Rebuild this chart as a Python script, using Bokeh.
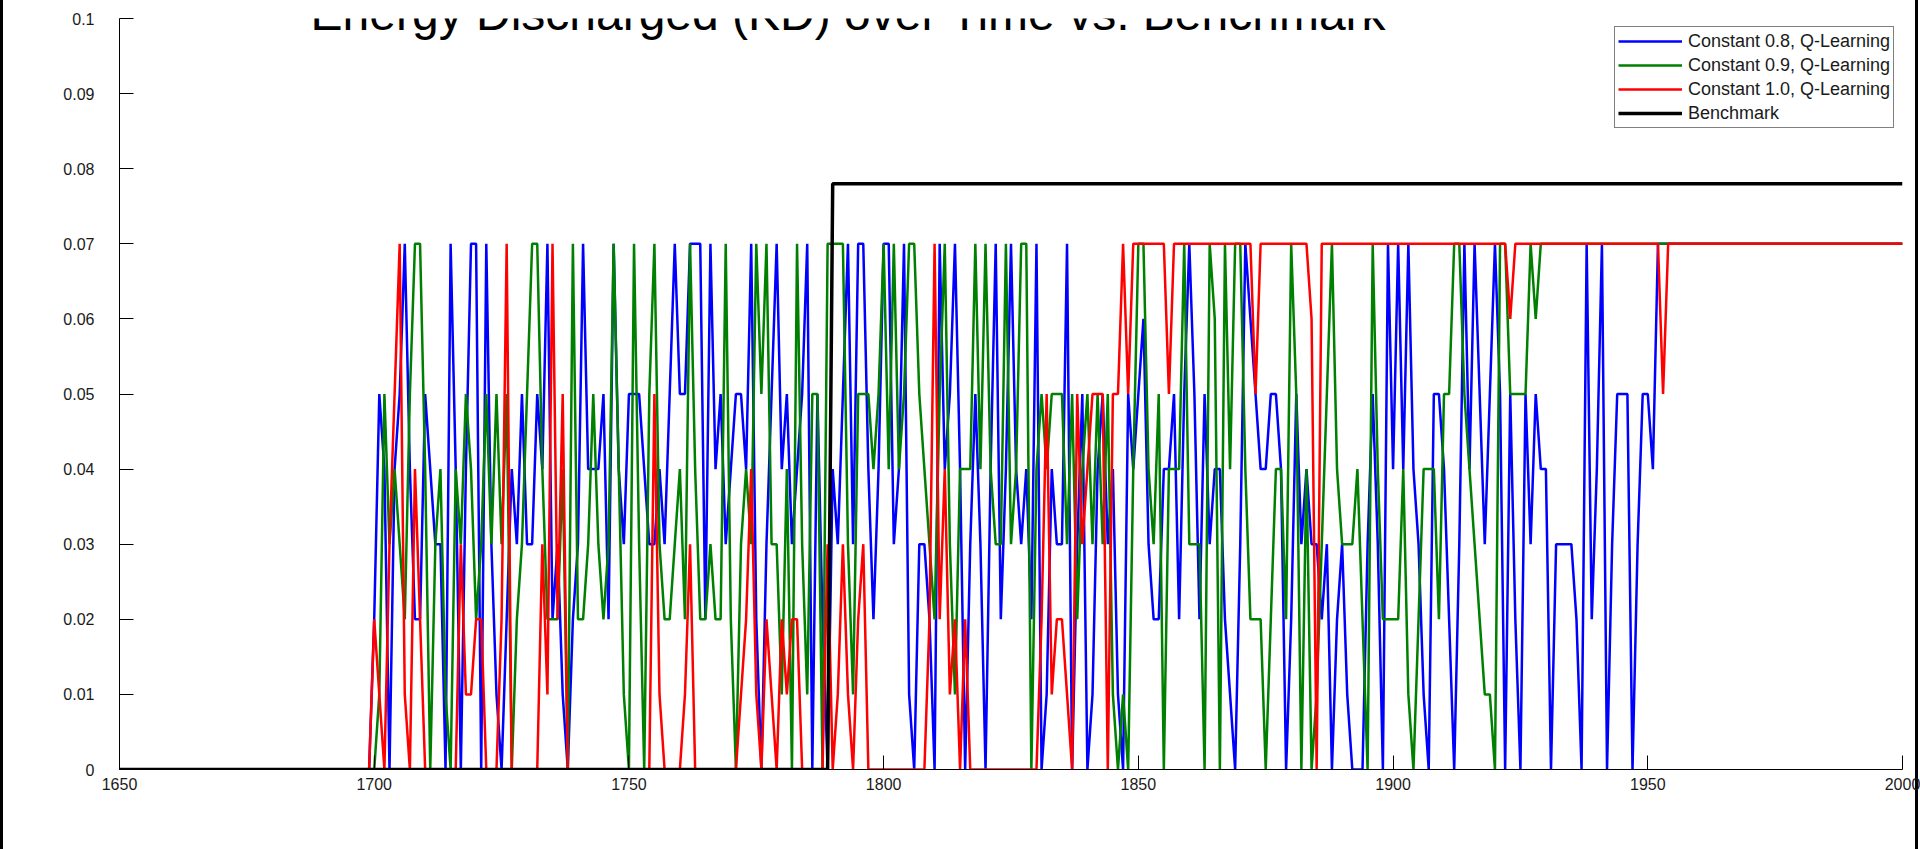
from math import pi

from bokeh.plotting import figure
from bokeh.models import Range1d, FixedTicker, Label, Legend, LegendItem
from bokeh.embed import file_html
from bokeh.resources import INLINE

# ---------------------------------------------------------------------------
# Data: energy discharged per time step, in hundredths of an energy unit.
# Every series is 0 before step 1700; the lists below run from 1700 to 2000.
# ---------------------------------------------------------------------------
first_step = 1700

const_08_centi = [
    2, 5, 4, 0, 4, 5, 7, 4, 2, 2,   # 1700
    5, 4, 3, 3, 0, 7, 4, 0, 4, 7,   # 1710
    7, 0, 7, 3, 1, 0, 2, 4, 3, 5,   # 1720
    3, 3, 5, 4, 7, 2, 3, 1, 0, 2,   # 1730
    3, 7, 4, 4, 4, 5, 2, 7, 4, 3,   # 1740
    5, 5, 5, 4, 3, 3, 4, 3, 5, 7,   # 1750
    5, 5, 7, 7, 7, 2, 7, 4, 5, 3,   # 1760
    4, 5, 5, 4, 7, 2, 0, 3, 5, 7,   # 1770
    4, 5, 3, 4, 5, 7, 0, 5, 2, 0,   # 1780
    4, 3, 5, 7, 3, 7, 7, 4, 2, 4,   # 1790
    7, 7, 3, 4, 7, 1, 0, 3, 3, 2,   # 1800
    0, 7, 4, 5, 7, 4, 0, 3, 5, 3,   # 1810
    0, 4, 7, 2, 4, 7, 4, 3, 4, 2,   # 1820
    7, 0, 1, 4, 3, 3, 7, 0, 3, 5,   # 1830
    0, 1, 4, 5, 3, 4, 1, 0, 5, 4,   # 1840
    5, 6, 3, 2, 2, 4, 4, 5, 2, 5,   # 1850
    7, 5, 2, 5, 3, 4, 4, 2, 1, 0,   # 1860
    3, 7, 6, 5, 4, 4, 5, 5, 4, 0,   # 1870
    2, 5, 3, 4, 3, 3, 2, 3, 0, 2,   # 1880
    3, 1, 0, 0, 0, 3, 5, 3, 0, 7,   # 1890
    4, 7, 4, 7, 4, 3, 1, 0, 5, 5,   # 1900
    4, 2, 0, 3, 7, 4, 7, 5, 3, 5,   # 1910
    7, 5, 0, 5, 2, 0, 5, 3, 5, 4,   # 1920
    4, 0, 3, 3, 3, 3, 2, 0, 7, 2,   # 1930
    4, 7, 0, 3, 5, 5, 5, 0, 3, 5,   # 1940
    5, 4, 7, 7, 7, 7, 7, 7, 7, 7,   # 1950
    7, 7, 7, 7, 7, 7, 7, 7, 7, 7,   # 1960
    7, 7, 7, 7, 7, 7, 7, 7, 7, 7,   # 1970
    7, 7, 7, 7, 7, 7, 7, 7, 7, 7,   # 1980
    7, 7, 7, 7, 7, 7, 7, 7, 7, 7,   # 1990
    7,                              # 2000
]

const_09_centi = [
    0, 1, 5, 3, 4, 3, 2, 5, 7, 7,   # 1700
    4, 0, 3, 4, 1, 0, 4, 3, 5, 4,   # 1710
    2, 3, 5, 3, 5, 3, 5, 0, 2, 3,   # 1720
    5, 7, 7, 4, 2, 2, 2, 4, 0, 7,   # 1730
    2, 2, 3, 5, 3, 2, 3, 7, 4, 1,   # 1740
    0, 7, 3, 0, 5, 7, 3, 2, 2, 3,   # 1750
    4, 2, 7, 4, 2, 2, 3, 2, 2, 7,   # 1760
    2, 0, 3, 4, 3, 7, 5, 7, 3, 3,   # 1770
    1, 4, 0, 7, 3, 1, 5, 5, 0, 7,   # 1780
    7, 7, 7, 3, 1, 5, 5, 5, 4, 5,   # 1790
    7, 4, 7, 4, 5, 7, 7, 5, 4, 3,   # 1800
    2, 5, 7, 3, 1, 4, 4, 4, 7, 4,   # 1810
    7, 4, 3, 3, 7, 3, 4, 7, 7, 0,   # 1820
    4, 5, 4, 5, 5, 5, 3, 5, 2, 4,   # 1830
    5, 3, 5, 3, 5, 1, 0, 1, 0, 4,   # 1840
    7, 7, 4, 3, 5, 0, 4, 4, 4, 7,   # 1850
    3, 3, 3, 0, 7, 6, 0, 7, 4, 7,   # 1860
    7, 4, 2, 2, 2, 0, 2, 4, 4, 2,   # 1870
    7, 5, 0, 4, 0, 1, 3, 5, 7, 4,   # 1880
    3, 3, 3, 4, 2, 0, 7, 4, 2, 2,   # 1890
    2, 2, 4, 1, 0, 2, 4, 4, 4, 2,   # 1900
    5, 5, 7, 7, 5, 4, 3, 2, 1, 1,   # 1910
    0, 7, 7, 5, 5, 5, 5, 7, 6, 7,   # 1920
    7, 7, 7, 7, 7, 7, 7, 7, 7, 7,   # 1930
    7, 7, 7, 7, 7, 7, 7, 7, 7, 7,   # 1940
    7, 7, 7, 7, 7, 7, 7, 7, 7, 7,   # 1950
    7, 7, 7, 7, 7, 7, 7, 7, 7, 7,   # 1960
    7, 7, 7, 7, 7, 7, 7, 7, 7, 7,   # 1970
    7, 7, 7, 7, 7, 7, 7, 7, 7, 7,   # 1980
    7, 7, 7, 7, 7, 7, 7, 7, 7, 7,   # 1990
    7,                              # 2000
]

const_10_centi = [
    2, 1, 0, 3, 5, 7, 1, 0, 4, 2,   # 1700
    0, 0, 0, 0, 0, 0, 0, 3, 1, 1,   # 1710
    2, 2, 0, 0, 0, 2, 7, 0, 0, 0,   # 1720
    0, 0, 0, 3, 1, 7, 2, 5, 0, 0,   # 1730
    0, 0, 0, 0, 0, 0, 0, 0, 0, 0,   # 1740
    0, 0, 0, 0, 0, 5, 1, 0, 0, 0,   # 1750
    0, 1, 3, 0, 0, 0, 0, 0, 0, 0,   # 1760
    0, 0, 1, 2, 4, 1, 0, 2, 1, 0,   # 1770
    2, 1, 2, 2, 0, 0, 0, 0, 0, 3,   # 1780
    0, 1, 3, 1, 0, 2, 3, 0, 0, 0,   # 1790
    0, 0, 0, 0, 0, 0, 0, 0, 0, 2,   # 1800
    7, 2, 4, 1, 2, 0, 2, 0, 0, 0,   # 1810
    0, 0, 0, 0, 0, 0, 0, 0, 0, 0,   # 1820
    0, 2, 5, 1, 2, 2, 1, 0, 5, 3,   # 1830
    4, 5, 5, 5, 0, 5, 5, 7, 5, 7,   # 1840
    7, 7, 7, 7, 7, 7, 5, 7, 7, 7,   # 1850
    7, 7, 7, 7, 7, 7, 7, 7, 7, 7,   # 1860
    7, 7, 7, 5, 7, 7, 7, 7, 7, 7,   # 1870
    7, 7, 7, 7, 6, 0, 7, 7, 7, 7,   # 1880
    7, 7, 7, 7, 7, 7, 7, 7, 7, 7,   # 1890
    7, 7, 7, 7, 7, 7, 7, 7, 7, 7,   # 1900
    7, 7, 7, 7, 7, 7, 7, 7, 7, 7,   # 1910
    7, 7, 7, 6, 7, 7, 7, 7, 7, 7,   # 1920
    7, 7, 7, 7, 7, 7, 7, 7, 7, 7,   # 1930
    7, 7, 7, 7, 7, 7, 7, 7, 7, 7,   # 1940
    7, 7, 7, 5, 7, 7, 7, 7, 7, 7,   # 1950
    7, 7, 7, 7, 7, 7, 7, 7, 7, 7,   # 1960
    7, 7, 7, 7, 7, 7, 7, 7, 7, 7,   # 1970
    7, 7, 7, 7, 7, 7, 7, 7, 7, 7,   # 1980
    7, 7, 7, 7, 7, 7, 7, 7, 7, 7,   # 1990
    7,                              # 2000
]

# Benchmark: a single step from 0 to 0.078
benchmark_steps = [1650, 1789, 1790, 2000]
benchmark_values = [0.0, 0.0, 0.078, 0.078]

series_names = [
    "Constant 0.8, Q-Learning",
    "Constant 0.9, Q-Learning",
    "Constant 1.0, Q-Learning",
    "Benchmark",
]
series_colors = ["#0000ff", "#008000", "#ff0000", "#000000"]

x_ticks = [1650, 1700, 1750, 1800, 1850, 1900, 1950, 2000]
x_tick_labels = ["1650", "1700", "1750", "1800", "1850", "1900", "1950", "2000"]
y_ticks = [0.0, 0.01, 0.02, 0.03, 0.04, 0.05, 0.06, 0.07, 0.08, 0.09, 0.1]
y_tick_labels = ["0", "0.01", "0.02", "0.03", "0.04", "0.05",
                 "0.06", "0.07", "0.08", "0.09", "0.1"]

title_text = "Energy Discharged (KD) over Time vs. Benchmark"
x_label_text = "Time Step"
y_label_text = "Energy Units"


def as_energy(centi):
    """Prefix the idle run before step 1700 and convert to energy units."""
    steps = [1650, first_step - 1] + list(range(first_step, first_step + len(centi)))
    values = [0.0, 0.0] + [c / 100 for c in centi]
    return steps, values


# ---------------------------------------------------------------------------
# Figure
# ---------------------------------------------------------------------------
p = figure(
    width=1920, height=849,
    output_backend="svg", toolbar_location=None,
    x_range=Range1d(1650, 2000), y_range=Range1d(0, 0.1),
    min_border_left=119, min_border_right=18,
    min_border_top=18, min_border_bottom=80,
)
p.title.visible = False
p.background_fill_color = "white"
p.border_fill_color = None
p.outline_line_color = None
p.xgrid.visible = False
p.ygrid.visible = False
# thin frame around the whole figure window (left and right edges)
p.styles = {
    "background-color": "white",
    "box-shadow": "inset 3px 0 0 #000, inset -2px 0 0 #fff, inset -5px 0 0 #000",
}

tick_font = "Liberation Sans"
for ax in (p.xaxis[0], p.yaxis[0]):
    ax.axis_line_color = "black"
    ax.axis_line_width = 1
    ax.major_tick_line_color = "black"
    ax.major_tick_in = 14
    ax.major_tick_out = 0
    ax.minor_tick_line_color = None
    ax.major_label_text_font = tick_font
    ax.major_label_text_font_size = "16px"
    ax.major_label_text_color = "#1a1a1a"

p.xaxis.ticker = FixedTicker(ticks=x_ticks)
p.xaxis.major_label_overrides = dict(zip(x_ticks, x_tick_labels))
p.xaxis.major_label_standoff = 8
p.yaxis.ticker = FixedTicker(ticks=y_ticks)
p.yaxis.major_label_overrides = dict(zip(y_ticks, y_tick_labels))
p.yaxis.major_label_standoff = 25

renderers = []
for centi, color in zip([const_08_centi, const_09_centi, const_10_centi], series_colors[:3]):
    xs, ys = as_energy(centi)
    renderers.append(p.line(xs, ys, line_color=color, line_width=2.5))
renderers.append(p.line(benchmark_steps, benchmark_values,
                        line_color=series_colors[3], line_width=3.5))

legend = Legend(
    items=[LegendItem(label=name, renderers=[r]) for name, r in zip(series_names, renderers)],
    location=(1495, 641),
    orientation="vertical",
    label_text_font="Liberation Sans",
    label_text_font_size="18px",
    label_text_color="#1a1a1a",
    glyph_width=64, glyph_height=22, label_height=22,
    label_standoff=6, spacing=2, padding=3, margin=0,
    border_line_color="black", border_line_width=1,
    background_fill_color="white", background_fill_alpha=1.0,
)
p.add_layout(legend)

label_font = "Liberation Sans"
p.add_layout(Label(x=1793.1, y=0.10067, text=title_text,
                   text_align="center", text_baseline="alphabetic",
                   text_font=label_font, text_font_size="48px", text_color="black"))
p.add_layout(Label(x=1800.2, y=-0.0081, text=x_label_text,
                   text_align="center", text_baseline="alphabetic",
                   text_font=label_font, text_font_size="42px", text_color="black"))
p.add_layout(Label(x=1635.7, y=0.052, text=y_label_text, angle=pi / 2,
                   text_align="center", text_baseline="alphabetic",
                   text_font=label_font, text_font_size="46px", text_color="black"))

open("out.html", "w").write(file_html(p, INLINE))
